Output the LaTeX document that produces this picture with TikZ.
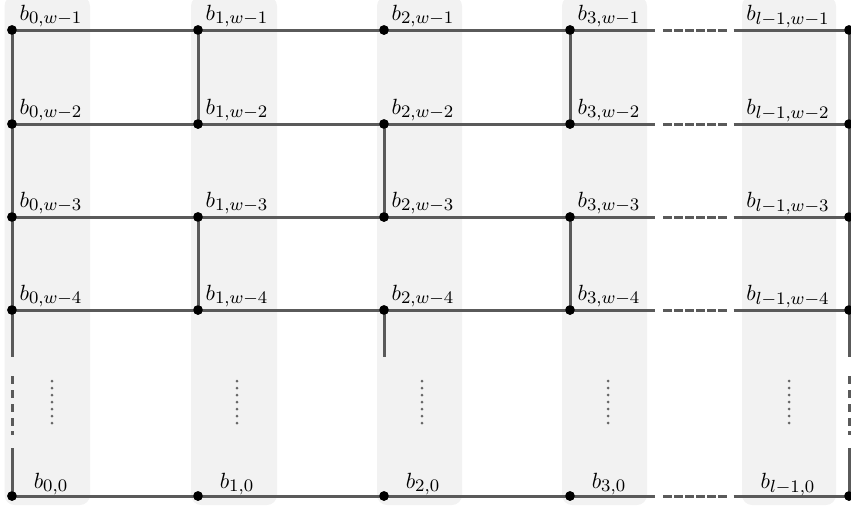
\documentclass[tikz,border=0pt]{standalone}
\DeclareMathSizes{10}{10}{8}{6}
\definecolor{bandgray}{HTML}{F2F2F2}
\definecolor{wiregray}{HTML}{5A5A5A}
\definecolor{dotgray}{HTML}{666666}
\newcommand\blab[1]{\scalebox{2.2}{$#1$}}
\begin{document}
\begin{tikzpicture}[x=1pt,y=-1pt,
  band/.style={fill=bandgray,rounded corners=10pt},
  wire/.style={draw=wiregray,line width=3pt},
  hgap/.style={wire,dash pattern=on 85pt off 8pt on 8.5pt off 2.5pt on 8.5pt off 2.5pt on 8.5pt off 2.5pt on 8.5pt off 2.5pt on 8.5pt off 2.5pt on 8.5pt off 7pt on 140pt},
  vgap/.style={wire,dash pattern=on 47pt off 19pt on 8pt off 6pt on 8pt off 6pt on 8pt off 6pt on 8pt off 5pt on 4pt off 13pt on 80pt},
  dot/.style={circle,fill=black,inner sep=0pt,minimum size=9.5pt},
  lbl/.style={anchor=base,inner sep=0pt},
  vdots/.style={draw=dotgray,line width=3pt,line cap=round,dash pattern=on 0pt off 7pt}]
\useasboundingbox (0,0) rectangle (851,509);
% bands
\fill[band] (4.5,-4) rectangle (90,505);
\fill[band] (191,-4) rectangle (277,505);
\fill[band] (377,-4) rectangle (462,505);
\fill[band] (562,-4) rectangle (647,505);
\fill[band] (742,-4) rectangle (836,505);
% dots (nodes)
\foreach \c/\x in {0/12,1/198,2/384,3/570,L/849}
  \foreach \r/\y in {1/30,2/124,3/217,4/310,0/496}
    \node[dot] (n-\c-\r) at (\x,\y) {};
\coordinate (stub2) at (384,357);
% horizontal connectors
\foreach \r in {1,2,3,4,0} {
  \draw[wire] (n-0-\r.center) -- (n-1-\r.center);
  \draw[wire] (n-1-\r.center) -- (n-2-\r.center);
  \draw[wire] (n-2-\r.center) -- (n-3-\r.center);
  \draw[hgap] (n-3-\r.center) -- (n-L-\r.center);
}
% vertical connectors
\draw[wire] (n-0-1.center) -- (n-0-2.center);
\draw[wire] (n-0-2.center) -- (n-0-3.center);
\draw[wire] (n-0-3.center) -- (n-0-4.center);
\draw[vgap] (n-0-4.center) -- (n-0-0.center);
\draw[wire] (n-L-1.center) -- (n-L-2.center);
\draw[wire] (n-L-2.center) -- (n-L-3.center);
\draw[wire] (n-L-3.center) -- (n-L-4.center);
\draw[vgap] (n-L-4.center) -- (n-L-0.center);
\draw[wire] (n-1-1.center) -- (n-1-2.center);
\draw[wire] (n-1-3.center) -- (n-1-4.center);
\draw[wire] (n-2-2.center) -- (n-2-3.center);
\draw[wire] (n-2-4.center) -- (stub2);
\draw[wire] (n-3-1.center) -- (n-3-2.center);
\draw[wire] (n-3-3.center) -- (n-3-4.center);
% redraw dots on top
\foreach \c in {0,1,2,3,L}
  \foreach \r in {1,2,3,4,0}
    \fill (n-\c-\r) circle (4.75pt);
% vertical dotted ellipses
\foreach \x in {52,237,422,608,789}
  \draw[vdots] (\x,381) -- (\x,423.5);
% labels
\foreach \c/\x in {0/51,1/237,2/423,3/609} {
  \node[lbl] (t-\c-1) at (\x,20) {\blab{b_{\c,w-1}}};
  \node[lbl] (t-\c-2) at (\x,114) {\blab{b_{\c,w-2}}};
  \node[lbl] (t-\c-3) at (\x,207) {\blab{b_{\c,w-3}}};
  \node[lbl] (t-\c-4) at (\x,300) {\blab{b_{\c,w-4}}};
  \node[lbl] (t-\c-0) at (\x,488) {\blab{b_{\c,0}}};
}
\node[lbl] (t-L-1) at (788,20) {\blab{b_{l-1,w-1}}};
\node[lbl] (t-L-2) at (788,114) {\blab{b_{l-1,w-2}}};
\node[lbl] (t-L-3) at (788,207) {\blab{b_{l-1,w-3}}};
\node[lbl] (t-L-4) at (788,300) {\blab{b_{l-1,w-4}}};
\node[lbl] (t-L-0) at (788,488) {\blab{b_{l-1,0}}};
\end{tikzpicture}
\end{document}
